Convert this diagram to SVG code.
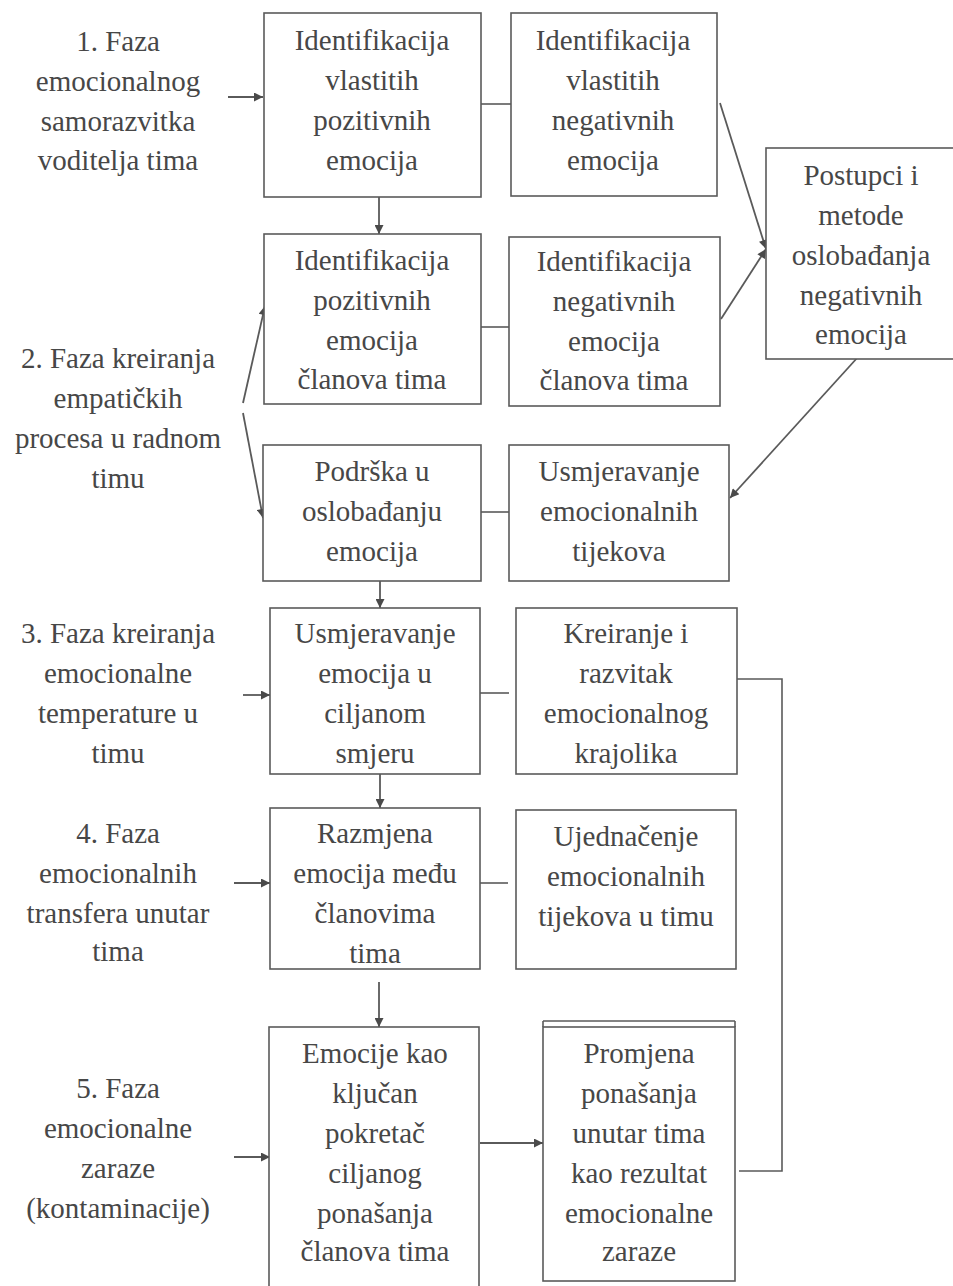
<svg xmlns="http://www.w3.org/2000/svg" width="953" height="1286" viewBox="0 0 953 1286">
<style>
text{font-family:"Liberation Serif",Times,"Times New Roman","DejaVu Serif",serif;font-size:29px;fill:#474747;text-anchor:middle}
.box{fill:#fff;stroke:#5a5a5a;stroke-width:1.6}
.ln{fill:none;stroke:#5a5a5a;stroke-width:1.6}
.ar{fill:none;stroke:#5a5a5a;stroke-width:1.8;marker-end:url(#ah)}
</style>
<defs>
<marker id="ah" viewBox="0 0 10 10" refX="10" refY="5" markerWidth="11" markerHeight="9" markerUnits="userSpaceOnUse" orient="auto">
<path d="M0,0 L10,5 L0,10 Z" fill="#4a4a4a"/>
</marker>
</defs>
<rect width="953" height="1286" fill="#fff"/>

<g id="connectors">
<line class="ar" x1="228" y1="97" x2="263" y2="97"/>
<line class="ln" x1="481" y1="104" x2="511" y2="104"/>
<line class="ar" x1="379" y1="197" x2="379" y2="234"/>
<line class="ln" x1="481" y1="327" x2="509" y2="327"/>
<line class="ar" x1="720" y1="103" x2="766" y2="249"/>
<line class="ar" x1="721" y1="319" x2="766" y2="249"/>
<line class="ar" x1="858" y1="357" x2="730" y2="498"/>
<line class="ar" x1="243" y1="403" x2="265" y2="306"/>
<line class="ar" x1="243" y1="413" x2="263" y2="518"/>
<line class="ln" x1="481" y1="512" x2="509" y2="512"/>
<line class="ar" x1="380" y1="581" x2="380" y2="608"/>
<line class="ar" x1="243" y1="695" x2="270" y2="695"/>
<line class="ln" x1="480" y1="693" x2="509" y2="693"/>
<line class="ar" x1="380" y1="774" x2="380" y2="808"/>
<polyline class="ln" points="737,679 782,679 782,1171 739,1171"/>
<line class="ar" x1="234" y1="883" x2="270" y2="883"/>
<line class="ln" x1="480" y1="883" x2="508" y2="883"/>
<line class="ar" x1="379" y1="982" x2="379" y2="1027"/>
<line class="ar" x1="234" y1="1157" x2="270" y2="1157"/>
<line class="ar" x1="480" y1="1143" x2="543" y2="1143"/>
</g>

<g id="label1">
<text x="118" y="51">1. Faza</text>
<text x="118" y="91">emocionalnog</text>
<text x="118" y="131">samorazvitka</text>
<text x="118" y="170">voditelja tima</text>
</g>
<g id="label2">
<text x="118" y="368">2. Faza kreiranja</text>
<text x="118" y="408">empatičkih</text>
<text x="118" y="448">procesa u radnom</text>
<text x="118" y="488">timu</text>
</g>
<g id="label3">
<text x="118" y="643">3. Faza kreiranja</text>
<text x="118" y="683">emocionalne</text>
<text x="118" y="723">temperature u</text>
<text x="118" y="763">timu</text>
</g>
<g id="label4">
<text x="118" y="843">4. Faza</text>
<text x="118" y="883">emocionalnih</text>
<text x="118" y="923">transfera unutar</text>
<text x="118" y="961">tima</text>
</g>
<g id="label5">
<text x="118" y="1098">5. Faza</text>
<text x="118" y="1138">emocionalne</text>
<text x="118" y="1178">zaraze</text>
<text x="118" y="1218">(kontaminacije)</text>
</g>

<g id="nodeA">
<rect class="box" x="264" y="13" width="217" height="184"/>
<text x="372" y="50">Identifikacija</text>
<text x="372" y="90">vlastitih</text>
<text x="372" y="130">pozitivnih</text>
<text x="372" y="170">emocija</text>
</g>
<g id="nodeB">
<rect class="box" x="511" y="13" width="206" height="183"/>
<text x="613" y="50">Identifikacija</text>
<text x="613" y="90">vlastitih</text>
<text x="613" y="130">negativnih</text>
<text x="613" y="170">emocija</text>
</g>
<g id="nodeP">
<rect class="box" x="766" y="148" width="200" height="211"/>
<text x="861" y="185">Postupci i</text>
<text x="861" y="225">metode</text>
<text x="861" y="265">oslobađanja</text>
<text x="861" y="305">negativnih</text>
<text x="861" y="344">emocija</text>
</g>
<g id="nodeC">
<rect class="box" x="264" y="234" width="217" height="170"/>
<text x="372" y="270">Identifikacija</text>
<text x="372" y="310">pozitivnih</text>
<text x="372" y="350">emocija</text>
<text x="372" y="389">članova tima</text>
</g>
<g id="nodeD">
<rect class="box" x="509" y="237" width="211" height="169"/>
<text x="614" y="271">Identifikacija</text>
<text x="614" y="311">negativnih</text>
<text x="614" y="351">emocija</text>
<text x="614" y="390">članova tima</text>
</g>
<g id="nodeE">
<rect class="box" x="263" y="445" width="218" height="136"/>
<text x="372" y="481">Podrška u</text>
<text x="372" y="521">oslobađanju</text>
<text x="372" y="561">emocija</text>
</g>
<g id="nodeF">
<rect class="box" x="509" y="445" width="220" height="136"/>
<text x="619" y="481">Usmjeravanje</text>
<text x="619" y="521">emocionalnih</text>
<text x="619" y="561">tijekova</text>
</g>
<g id="nodeG">
<rect class="box" x="270" y="608" width="210" height="166"/>
<text x="375" y="643">Usmjeravanje</text>
<text x="375" y="683">emocija u</text>
<text x="375" y="723">ciljanom</text>
<text x="375" y="763">smjeru</text>
</g>
<g id="nodeH">
<rect class="box" x="516" y="608" width="221" height="166"/>
<text x="626" y="643">Kreiranje i</text>
<text x="626" y="683">razvitak</text>
<text x="626" y="723">emocionalnog</text>
<text x="626" y="763">krajolika</text>
</g>
<g id="nodeI">
<rect class="box" x="270" y="808" width="210" height="161"/>
<text x="375" y="843">Razmjena</text>
<text x="375" y="883">emocija među</text>
<text x="375" y="923">članovima</text>
<text x="375" y="963">tima</text>
</g>
<g id="nodeJ">
<rect class="box" x="516" y="810" width="220" height="159"/>
<text x="626" y="846">Ujednačenje</text>
<text x="626" y="886">emocionalnih</text>
<text x="626" y="926">tijekova u timu</text>
</g>
<g id="nodeK">
<rect class="box" x="269" y="1027" width="210" height="270"/>
<text x="375" y="1063">Emocije kao</text>
<text x="375" y="1103">ključan</text>
<text x="375" y="1143">pokretač</text>
<text x="375" y="1183">ciljanog</text>
<text x="375" y="1223">ponašanja</text>
<text x="375" y="1261">članova tima</text>
</g>
<g id="nodeL">
<rect class="box" x="543" y="1027" width="192" height="254"/>
<line class="ln" x1="543" y1="1021" x2="735" y2="1021"/>
<line class="ln" x1="543" y1="1021" x2="543" y2="1027"/>
<line class="ln" x1="735" y1="1021" x2="735" y2="1027"/>
<text x="639" y="1063">Promjena</text>
<text x="639" y="1103">ponašanja</text>
<text x="639" y="1143">unutar tima</text>
<text x="639" y="1183">kao rezultat</text>
<text x="639" y="1223">emocionalne</text>
<text x="639" y="1261">zaraze</text>
</g>
</svg>
